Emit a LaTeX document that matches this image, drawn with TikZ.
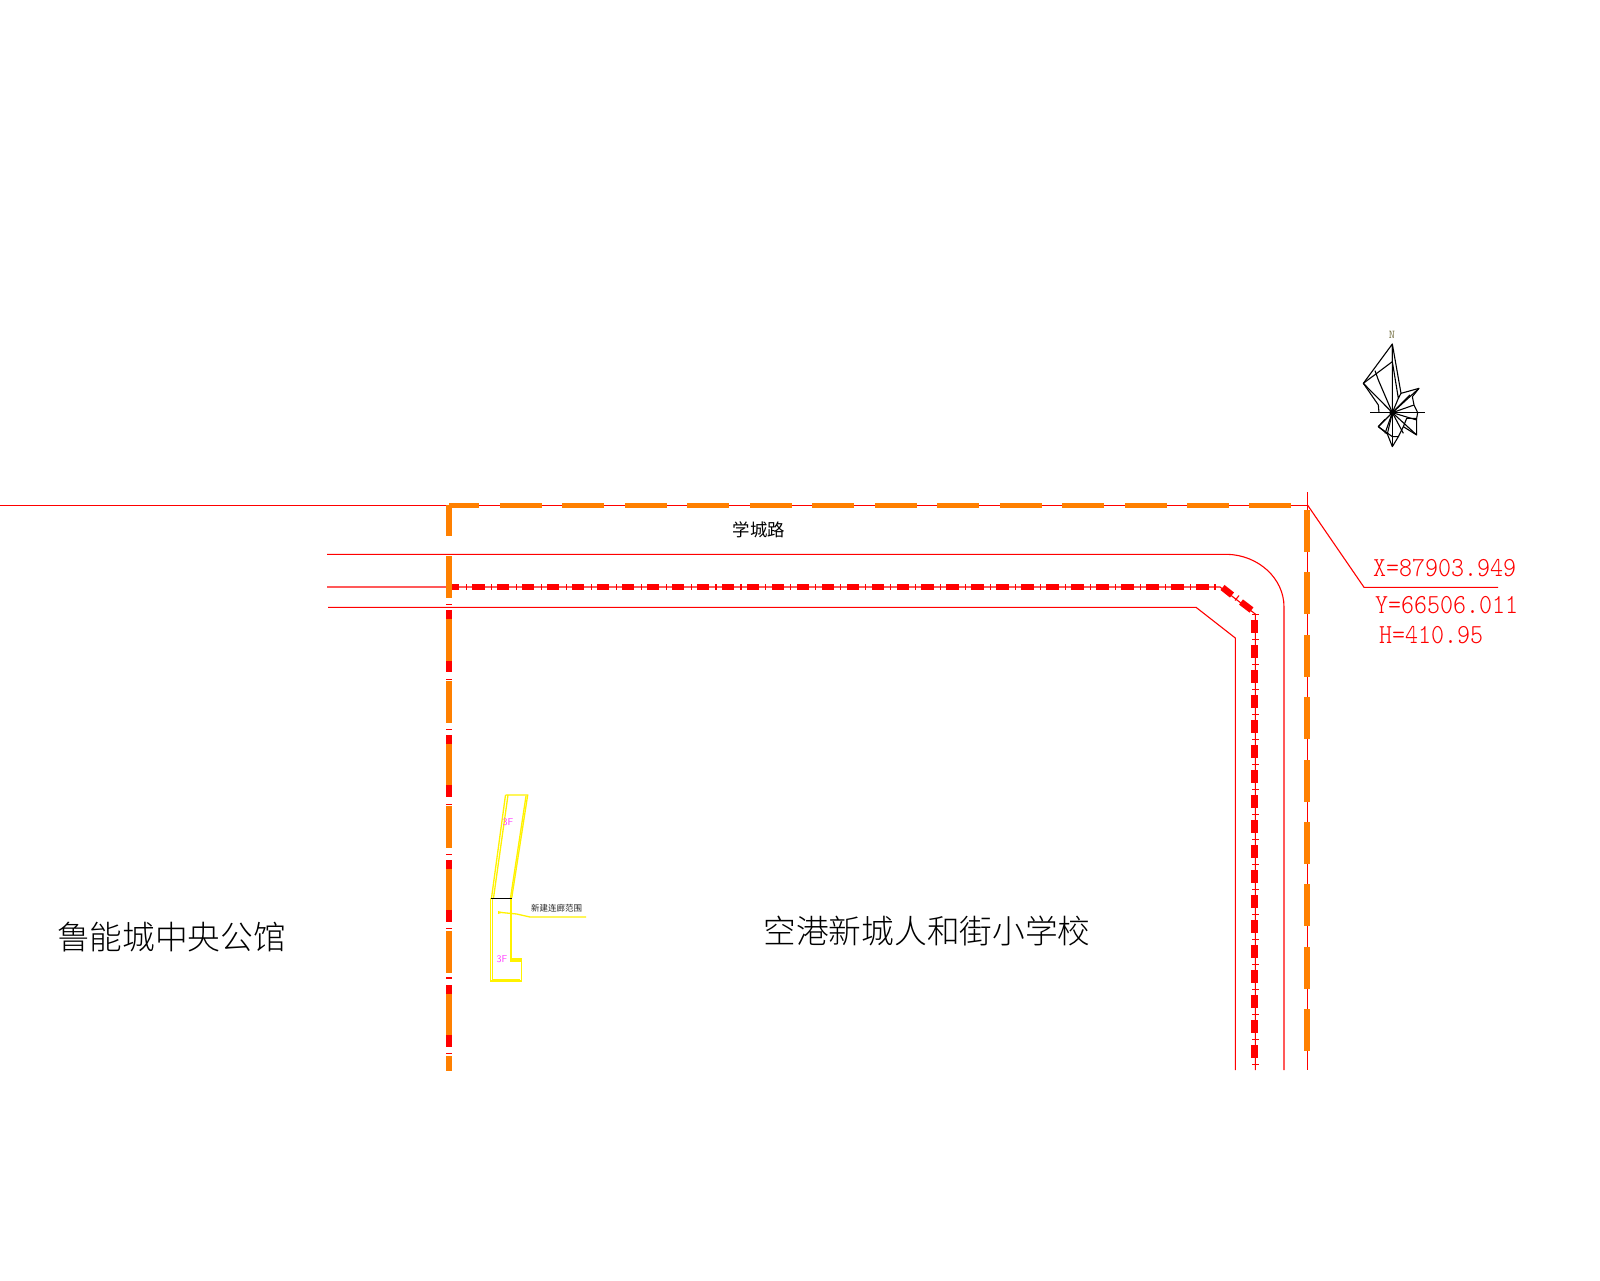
\documentclass[tikz,border=0pt]{standalone}
\usepackage{fontspec}
\newfontfamily\cjk{Noto Sans CJK SC}
\newfontfamily\cjklight{Noto Sans CJK SC Light}
\newfontfamily\coordfont[FakeStretch=0.9]{Latin Modern Mono Light}
\tikzset{
  thinred/.style={draw=red,line width=1.1pt},
  orangedash/.style={fill=orange1},
  reddash/.style={fill=red},
  yel/.style={draw=yellow,line width=1.3pt},
  rose/.style={draw=black,line width=1.1pt,line join=round},
  coordtext/.style={text=red,anchor=west,inner sep=0pt,font=\fontsize{27.5}{30}\selectfont\coordfont},
  bigcjk/.style={text=black,inner sep=0pt,font=\fontsize{32.7}{34}\selectfont\cjklight},
  smallf/.style={text=magenta1,inner sep=0pt,font=\fontsize{10}{11}\selectfont\sffamily}
}
\definecolor{orange1}{RGB}{255,128,0}
\definecolor{magenta1}{RGB}{255,64,255}
\begin{document}
\begin{tikzpicture}[x=1pt,y=-1pt]
\useasboundingbox (0,0) rectangle (1600,1280);
\fill[white] (0,0) rectangle (1600,1280);
% thin site and road lines
\draw[thinred] (0,505.3) -- (1307.7,505.3);
\draw[thinred] (1307.7,492) -- (1307.7,1070);
\draw[thinred] (327,554.3) -- (1227,554.3) .. controls (1258,555) and (1284,578) .. (1284,607) -- (1284,1070);
\draw[thinred] (327,587) -- (1220,587) -- (1255.3,614) -- (1255.3,1070);
\draw[thinred] (328,607.3) -- (1196,607.3) -- (1235.3,638) -- (1235.3,1070);
% red dash-dot, horizontal
\fill[reddash] (452,584) rectangle (459,590);
\foreach \k in {0,...,29}{
  \fill[reddash] ({472+24.97*\k},584) rectangle ({484.5+24.97*\k},590);
}
\foreach \k in {0,...,30}{
  \draw[thinred] ({466.5+24.95*\k},584) -- ({466.5+24.95*\k},590);
}
% red dash-dot, diagonal
\draw[red,line width=6.5pt] (1222.5,587.5) -- (1232,595);
\draw[red,line width=6.5pt] (1241,602) -- (1251.5,610);
\draw[thinred] (1235,600.5) -- (1239,595.5);
% red dash-dot, vertical
\foreach \k in {0,...,17}{
  \fill[reddash] (1251,{620+25*\k}) rectangle (1258,{632.5+25*\k});
}
\foreach \k in {0,...,18}{
  \draw[thinred] (1252,{614.3+25*\k}) -- (1259.3,{614.3+25*\k});
}
% left boundary: red parts and ticks
\foreach \a/\b in {610/619,661/672,735/744,785/797,860/869,910/922,985/994,1035/1047}{
  \fill[reddash] (446,\a) rectangle (452,\b);
}
\foreach \t in {604.5,679.5,729.5,804.5,854.5,928.5,978,1053.5}{
  \draw[thinred] (446,\t) -- (452,\t);
}
% left boundary: orange dashes
\foreach \a/\b in {505/536,556/598,619/661,681/723,744/785,806/848,869/910,931/973,994/1035,1056/1071}{
  \fill[orangedash] (446,\a) rectangle (452,\b);
}
% top boundary: orange dashes
\fill[orangedash] (449,503) rectangle (479,508);
\foreach \k in {0,...,12}{
  \fill[orangedash] ({500+62.45*\k},503) rectangle ({542+62.45*\k},508);
}
% right boundary: orange dashes
\foreach \k in {0,...,8}{
  \fill[orangedash] (1304,{510+62.4*\k}) rectangle (1310,{552+62.4*\k});
}
% leader and coordinates
\draw[thinred] (1307.7,505.3) -- (1364,587.3) -- (1498,587.3);
\node[coordtext] (cx) at (1373,568) {X=87903.949};
\node[coordtext] (cy) at (1375,605) {Y=66506.011};
\node[coordtext] (ch) at (1379,635) {H=410.95};
% labels
\node[inner sep=0pt,font=\fontsize{17.4}{20}\selectfont\cjk] (road) at (759,530) {学城路};
\node[bigcjk] (west) at (171.5,937) {鲁能城中央公馆};
\node[bigcjk] (school) at (927,931) {空港新城人和街小学校};
% yellow building
\draw[yel] (505.5,795) -- (527.7,795) -- (511.7,898);
\draw[yel] (526,796) -- (510.5,898);
\draw[yel] (505.5,795) -- (491.5,898);
\draw[yel] (508,795) -- (493.5,898);
\draw[yel] (490.3,898) -- (490.3,981) -- (521.7,981) -- (521.7,959) -- (511,959);
\draw[yel] (492.2,898) -- (492.2,979.3) -- (519.8,979.3);
\draw[yel,line width=2pt] (511,898) -- (511,961) -- (521,961);
\draw[black,line width=1.1pt] (491,898.3) -- (512,898.3);
\draw[yel] (499.5,912.3) -- (516.7,914) -- (530,917) -- (586,917);
\fill[yellow] (498,911) -- (503,912.4) -- (498,914) -- cycle;
\node[smallf] (f1) at (508,822) {3F};
\node[smallf] (f2) at (502,959) {3F};
\node[inner sep=0pt,text=black!85,font=\fontsize{8.5}{10}\selectfont\cjk] (newc) at (556.5,908) {新建连廊范围};
% north rose
\begin{scope}[shift={(1335,330)},x=0.3333pt,y=-0.3333pt]
\draw[rose] (172,248) -- (172,42) -- (85,160) -- (172,248);
\draw[rose] (85,160) -- (172,95) -- (172,42);
\draw[rose] (120,122) -- (130,150) -- (172,248);
\draw[rose] (85,160) -- (130,225) -- (132,248);
\draw[rose] (172,42) -- (198,190) -- (252,175) -- (232,200) -- (237,225) -- (248,248);
\draw[rose] (172,95) -- (190,205) -- (198,190);
\draw[rose] (105,248) -- (270,248);
\draw[rose] (172,248) -- (172,350);
\draw[rose] (248,248) -- (245,265) -- (245,315) -- (205,290) -- (190,320) -- (172,350) -- (157,312) -- (130,290) -- (150,268);
\draw[rose] (130,290) -- (172,320) -- (190,320);
\draw[rose] (205,290) -- (215,265) -- (245,265);
\foreach \p in {(252,175),(225,195),(190,205),(237,225),(248,248),(245,270),(245,315),(205,310),(157,312),(130,290),(150,310)}{
  \draw[rose] (172,248) -- \p;
}
\fill[black] (172,248) circle (9);
\end{scope}
\node[inner sep=0pt,text=black!60!yellow,font=\fontsize{12}{13}\selectfont\ttfamily] (north) at (1392,335) {N};
\end{tikzpicture}
\end{document}
